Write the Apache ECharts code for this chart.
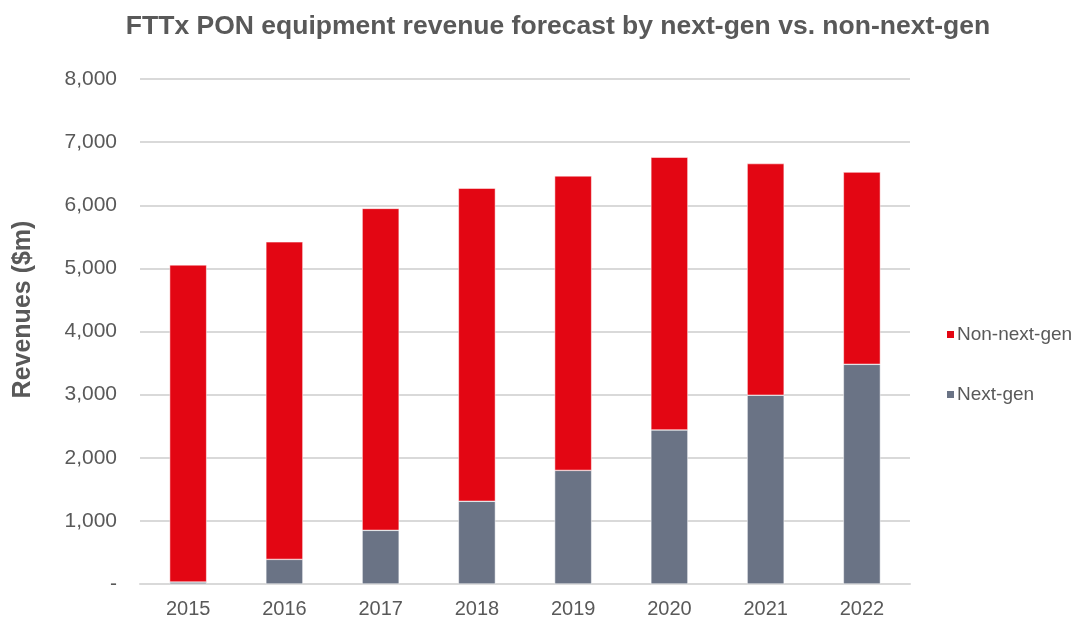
<!DOCTYPE html>
<html>
<head>
<meta charset="utf-8">
<script src="https://cdn.jsdelivr.net/npm/echarts@6/dist/echarts.min.js"></script>
<style>
  html, body { margin: 0; padding: 0; background: #fff; }
  #chart { width: 1088px; height: 628px; }
</style>
</head>
<body>
<div id="chart"></div>
<script>
var years = ['2015', '2016', '2017', '2018', '2019', '2020', '2021', '2022'];
var nextGen = [30, 390, 850, 1310, 1800, 2440, 2990, 3480];
var nonNextGen = [5025, 5030, 5100, 4960, 4665, 4320, 3670, 3045];

var font = "'Liberation Sans Narrow', 'Arial Narrow', 'Liberation Sans', Arial, sans-serif";
var textColor = '#595959';

var myChart = echarts.init(document.getElementById('chart'));
var option = {
    animation: false,
    title: {
        text: 'FTTx PON equipment revenue forecast by next-gen vs. non-next-gen',
        left: 553,
        textAlign: 'center',
        top: 8,
        textStyle: { fontFamily: font, fontSize: 26.5, fontWeight: 'bold', color: textColor }
    },
    legend: {
        orient: 'vertical',
        left: 940,
        top: 320,
        itemGap: 41,
        itemWidth: 9,
        itemHeight: 9,
        icon: 'rect',
        data: ['Non-next-gen', 'Next-gen'],
        textStyle: { fontFamily: font, fontSize: 19, color: textColor, padding: [0, 0, 0, -3] }
    },
    grid: { left: 140, right: 178, top: 79, bottom: 44 },
    xAxis: {
        type: 'category',
        data: years,
        axisTick: { show: false },
        axisLine: { lineStyle: { color: '#d9d9d9', width: 2 } },
        axisLabel: { fontFamily: font, fontSize: 20, color: textColor, margin: 15 }
    },
    yAxis: {
        type: 'value',
        min: 0,
        max: 8000,
        interval: 1000,
        name: 'Revenues ($m)',
        nameLocation: 'middle',
        nameGap: 104,
        nameTextStyle: {
            fontFamily: font, fontSize: 25, fontWeight: 'bold', color: textColor,
            padding: [0, 0, 0, 44]
        },
        axisLine: { show: false },
        axisTick: { show: false },
        splitLine: { lineStyle: { color: '#d9d9d9', width: 2 } },
        axisLabel: {
            fontFamily: font, fontSize: 21, color: textColor, margin: 23,
            formatter: function (v) { return v === 0 ? '-' : v.toLocaleString('en-US'); }
        }
    },
    series: [
        {
            name: 'Next-gen',
            type: 'bar',
            stack: 'total',
            barWidth: 37,
            data: nextGen,
            itemStyle: { color: '#6a7385', borderColor: '#ffffff', borderWidth: 0.5 }
        },
        {
            name: 'Non-next-gen',
            type: 'bar',
            stack: 'total',
            barWidth: 37,
            data: nonNextGen,
            itemStyle: { color: '#e30613', borderColor: '#ffffff', borderWidth: 0.5 }
        }
    ]
};
myChart.setOption(option);
</script>
</body>
</html>
